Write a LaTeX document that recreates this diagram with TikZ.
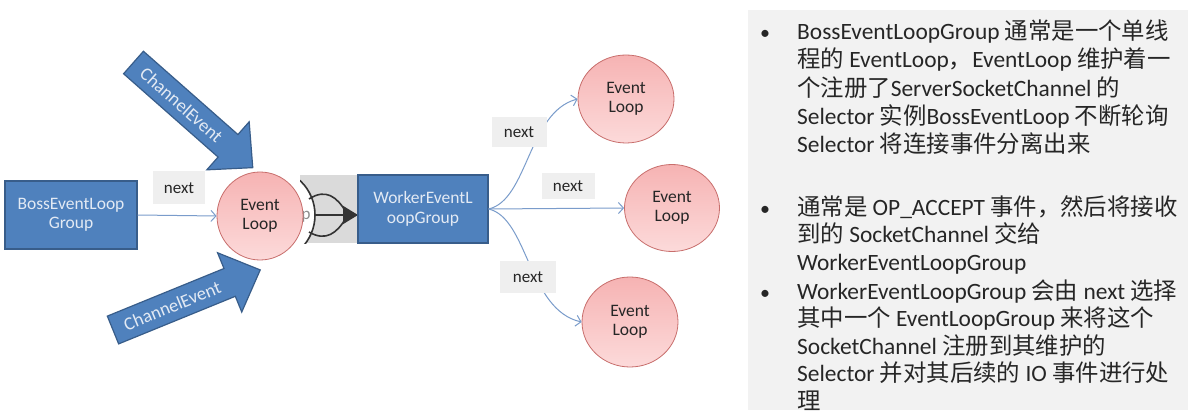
\documentclass[tikz,border=0pt]{standalone}
\usepackage{fontspec}
\setmainfont{Carlito}
\newfontfamily\cjk{Noto Sans CJK SC}
\usetikzlibrary{arrows.meta,shapes.geometric}
\definecolor{boxblue}{HTML}{4F81BD}
\definecolor{boxedge}{HTML}{385D8A}
\definecolor{boxtext}{HTML}{E3EAF4}
\definecolor{linkblue}{HTML}{7A9CCB}
\definecolor{labelgray}{HTML}{EFEFEF}
\definecolor{panelgray}{HTML}{F2F2F2}
\definecolor{pinktop}{HTML}{F6B3B3}
\definecolor{pinkbot}{HTML}{FCDADA}
\definecolor{pinkedge}{HTML}{C86E6C}
\definecolor{txt}{HTML}{262626}
\definecolor{loopgray}{HTML}{DADADA}
\newcommand{\zh}[1]{{\cjk #1}}
\begin{document}
\begin{tikzpicture}[x=1pt,y=-1pt,
  bluebox/.style={draw=boxedge, line width=1.2pt, fill=boxblue, text=boxtext, align=center,
    font=\fontsize{17.5}{19.5}\selectfont, inner sep=0pt},
  loopnode/.style={ellipse, draw=pinkedge, line width=0.8pt, top color=pinktop, bottom color=pinkbot,
    text=txt, align=center, font=\fontsize{17.5}{19.5}\selectfont, inner sep=0pt},
  lbl/.style={fill=labelgray, text=txt, font=\fontsize{17}{19}\selectfont, inner sep=0pt},
  link/.style={draw=linkblue, line width=1pt, -{Straight Barb[length=5pt,width=11pt]}},
  loopline/.style={draw=black!80, line width=1.6pt},
  line/.style={anchor=base west, inner sep=0pt, text=txt, font=\fontsize{23.4}{28}\selectfont},
  bul/.style={anchor=base, inner sep=0pt, text=txt, font=\fontsize{20}{24}\selectfont},
  blockarrow/.pic={
    \draw[draw=boxedge, line width=1.2pt, fill=boxblue]
      (0,-15) -- (126,-15) -- (126,-32) -- (159,0) -- (126,32) -- (126,15) -- (0,15) -- cycle;
    \node[transform shape, text=boxtext, inner sep=0pt,
      font=\fontsize{18.5}{20}\selectfont] (-txt) at (64,0) {ChannelEvent};
  }]
\useasboundingbox (0,0) rectangle (1188,414);
\fill[white] (0,0) rectangle (1188,414);

% right text panel
\fill[panelgray] (748,10) rectangle (1188,410);
\node[bul] (b1) at (765,40) {•};
\node[line] (l1) at (797,40) {BossEventLoopGroup \zh{通常是一个单线}};
\node[line] (l2) at (797,68) {\zh{程的} EventLoop\zh{，}EventLoop \zh{维护着一}};
\node[line] (l3) at (797,96.5) {\zh{个注册了}ServerSocketChannel \zh{的}};
\node[line] (l4) at (797,124.5) {Selector \zh{实例}BossEventLoop \zh{不断轮询}};
\node[line] (l5) at (797,152.5) {Selector \zh{将连接事件分离出来}};
\node[bul] (b2) at (765,215) {•};
\node[line] (l6) at (797,215) {\zh{通常是} OP\_ACCEPT \zh{事件，然后将接收}};
\node[line] (l7) at (797,242.5) {\zh{到的} SocketChannel \zh{交给}};
\node[line] (l8) at (797,270) {WorkerEventLoopGroup};
\node[bul] (b3) at (765,299) {•};
\node[line] (l9) at (797,299) {WorkerEventLoopGroup \zh{会由} next \zh{选择}};
\node[line] (l10) at (797,326.5) {\zh{其中一个} EventLoopGroup \zh{来将这个}};
\node[line] (l11) at (797,354) {SocketChannel \zh{注册到其维护的}};
\node[line] (l12) at (797,381.5) {Selector \zh{并对其后续的} IO \zh{事件进行处}};
\node[line] (l13) at (797,409) {\zh{理}};

% block arrows
\pic[rotate=-41.4] (ceA) at (133.5,62.5) {blockarrow};
\pic[rotate=22.2] (ceB) at (113,330) {blockarrow};

% loop icon behind the first event loop
\fill[loopgray] (300,175) rectangle (358,243);
\begin{scope}
  \clip (300,175) rectangle (358,243);
  \draw[loopline, fill=white] (268,215) circle[radius=47pt];
\end{scope}
\node[text=black!45, inner sep=0pt, font=\fontsize{17}{19}\selectfont] (pp) at (306,217) {p};
\coordinate (looptip) at (358,215);
\draw[loopline] (309,199) .. controls (326,188) and (337,197) .. (346,212);
\draw[loopline] (309,232) .. controls (326,242) and (337,233) .. (346,218);
\draw[loopline, -{Triangle[length=15pt,width=18pt]}] (315,215) -- (looptip);

% nodes
\node[bluebox, minimum width=132pt, minimum height=68pt] (boss) at (71,215) {BossEventLoop\\Group};
\node[bluebox, minimum width=130pt, minimum height=68pt] (worker) at (423,209) {WorkerEventL\\oopGroup};
\node[loopnode, minimum width=86pt, minimum height=88pt] (loop0) at (260,216) {Event\\Loop};
\node[loopnode, minimum width=96pt, minimum height=88pt] (loop1) at (626,99) {Event\\Loop};
\node[loopnode, minimum width=95pt, minimum height=87pt] (loop2) at (672,208) {Event\\Loop};
\node[loopnode, minimum width=96pt, minimum height=90pt] (loop3) at (630,322) {Event\\Loop};

% connectors
\draw[link] (boss.east) -- (loop0.west);
\draw[link] (worker.east) .. controls (528,200) and (528,112) .. (loop1.west);
\draw[link] (worker.east) -- (loop2.west);
\draw[link] (worker.east) .. controls (528,218) and (528,310) .. (loop3.west);

% labels
\node[lbl, minimum width=52pt, minimum height=33pt] (nA) at (179,188) {next};
\node[lbl, minimum width=55pt, minimum height=30pt] (nB) at (519,132) {next};
\node[lbl, minimum width=53pt, minimum height=26pt] (nC) at (568,186) {next};
\node[lbl, minimum width=56pt, minimum height=32pt] (nD) at (528,277) {next};
\end{tikzpicture}
\end{document}
